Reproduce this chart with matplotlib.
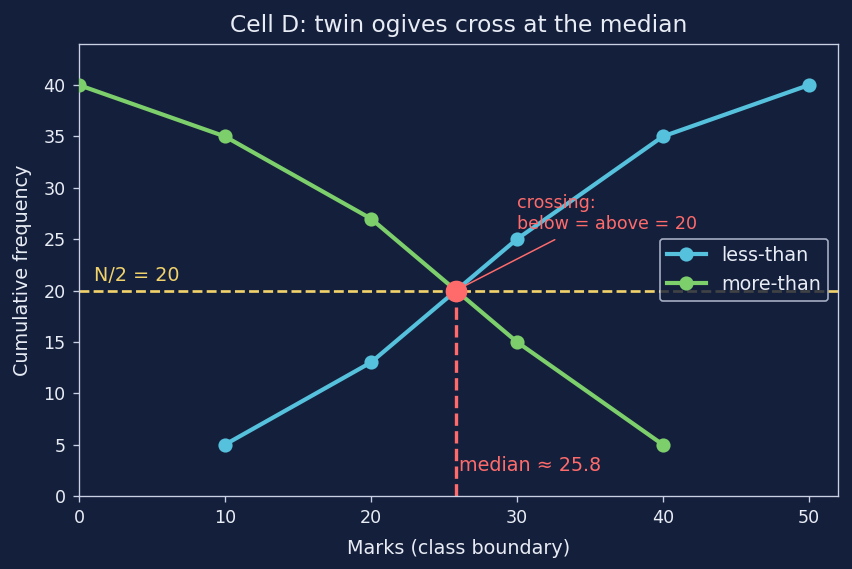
import matplotlib
matplotlib.use('Agg')
import matplotlib.pyplot as plt

bg = '#141f3c'
fg = '#e8ecf4'
spine_c = '#c9d1e3'
c_less = '#56c1dc'
c_more = '#7dcf6c'
c_half = '#f2d36b'
c_red = '#ff6b6b'

less_x = [10, 20, 30, 40, 50]
less_y = [5, 13, 25, 35, 40]
more_x = [0, 10, 20, 30, 40]
more_y = [40, 35, 27, 15, 5]
n_half = 20
median = 25.8

fig, ax = plt.subplots(figsize=(7.1, 4.7417), dpi=120)
fig.patch.set_facecolor(bg)
ax.set_facecolor(bg)

ax.axhline(n_half, color=c_half, linestyle='--', linewidth=1.6, zorder=1)
ax.plot([median, median], [0, n_half], color=c_red, linestyle='--', linewidth=2.0, zorder=1)

ax.plot(less_x, less_y, color=c_less, marker='o', linewidth=2.5, markersize=7.5, label='less-than', zorder=3)
ax.plot(more_x, more_y, color=c_more, marker='o', linewidth=2.5, markersize=7.5, label='more-than', zorder=3)
ax.plot([median], [n_half], marker='o', color=c_red, markersize=12, zorder=5, clip_on=False)

ax.annotate('', xy=(median, n_half), xytext=(32.8, 25.1),
            arrowprops=dict(arrowstyle='-', color=c_red, linewidth=0.9), zorder=4)
ax.text(30, 26, 'crossing:\nbelow = above = 20', color=c_red, fontsize=10.5, va='baseline')
ax.text(1, 20.9, 'N/2 = 20', color=c_half, fontsize=11.5)
ax.text(26, 2.4, 'median \u2248 25.8', color=c_red, fontsize=11.5)

ax.set_xlim(0, 52)
ax.set_ylim(0, 44)
ax.set_xticks([0, 10, 20, 30, 40, 50])
ax.set_yticks(range(0, 45, 5))

ax.set_title('Cell D: twin ogives cross at the median', color=fg, fontsize=14, pad=7)
ax.set_xlabel('Marks (class boundary)', color=fg, fontsize=11.5, labelpad=7)
ax.set_ylabel('Cumulative frequency', color=fg, fontsize=11.5, labelpad=7)
ax.tick_params(colors=spine_c, labelcolor=fg, labelsize=10.5, pad=4.5)
for s in ax.spines.values():
    s.set_color(spine_c)

leg = ax.legend(loc='center right', fontsize=11.5, facecolor=bg, edgecolor=spine_c, framealpha=0.8)
for t in leg.get_texts():
    t.set_color(fg)

fig.subplots_adjust(left=0.0927, right=0.9836, top=0.9227, bottom=0.1283)
fig.savefig('out.png', dpi=120, facecolor=bg)
